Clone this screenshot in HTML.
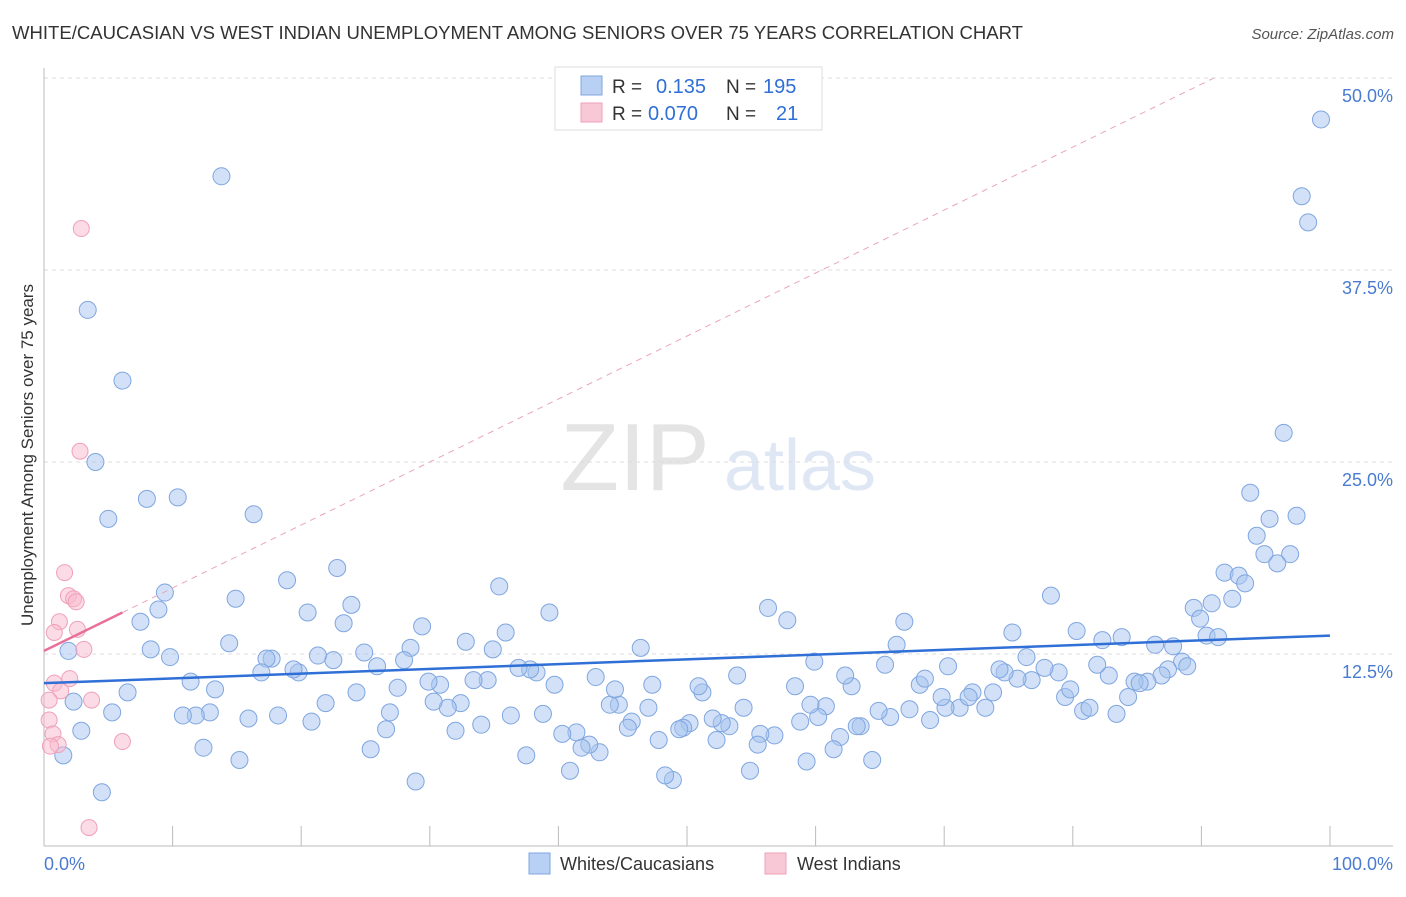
<!DOCTYPE html>
<html><head><meta charset="utf-8"><style>
body{margin:0;background:#fff;font-family:"Liberation Sans",sans-serif}
svg text{font-family:"Liberation Sans",sans-serif}
</style></head><body>
<svg id="chart" width="1406" height="892" xmlns="http://www.w3.org/2000/svg">
<text x="12" y="39" font-size="18" fill="#333" textLength="1011" lengthAdjust="spacingAndGlyphs">WHITE/CAUCASIAN VS WEST INDIAN UNEMPLOYMENT AMONG SENIORS OVER 75 YEARS CORRELATION CHART</text>
<text x="1394" y="39" font-size="15" fill="#555" font-style="italic" text-anchor="end">Source: ZipAtlas.com</text>
<g><text x="635" y="490" font-size="96" fill="#e4e4e4" font-family="Liberation Serif" text-anchor="middle">ZIP</text><text x="800" y="490" font-size="72" fill="#dfe7f5" text-anchor="middle">atlas</text></g>
<g id="grid"></g>
<g id="axes"></g>
<g id="pts-blue"></g>
<g id="pts-pink"></g>
<g id="trends"></g>
<text transform="translate(33,455) rotate(-90)" font-size="17" fill="#333" text-anchor="middle">Unemployment Among Seniors over 75 years</text>
<text x="44" y="870" font-size="18" fill="#4a7bd0">0.0%</text>
<text x="1393" y="870" font-size="18" fill="#4a7bd0" text-anchor="end">100.0%</text>
<g>
<rect x="555" y="67" width="267" height="63" fill="#fff" stroke="#ddd"/>
<rect x="581" y="76" width="21" height="19" fill="#b8d0f4" stroke="#7fa6e0"/>
<rect x="581" y="103" width="21" height="19" fill="#f9c8d6" stroke="#f0a0b8"/>
<text x="612" y="93" font-size="19" fill="#333">R = </text><text x="656" y="93" font-size="20" fill="#2f6fd6">0.135</text>
<text x="726" y="93" font-size="19" fill="#333">N = </text><text x="763" y="93" font-size="20" fill="#2f6fd6">195</text>
<text x="612" y="120" font-size="19" fill="#333">R = </text><text x="648" y="120" font-size="20" fill="#2f6fd6">0.070</text>
<text x="726" y="120" font-size="19" fill="#333">N = </text><text x="776" y="120" font-size="20" fill="#2f6fd6">21</text>
</g>
<g>
<rect x="529" y="853" width="21" height="21" fill="#b8d0f4" stroke="#7fa6e0"/>
<text x="560" y="870" font-size="18" fill="#333">Whites/Caucasians</text>
<rect x="765" y="853" width="21" height="21" fill="#f9c8d6" stroke="#f0a0b8"/>
<text x="797" y="870" font-size="18" fill="#333">West Indians</text>
</g>
</svg>
<script>
const yTicks=[12.5,25,37.5,50];
const yTickLabels=["12.5%","25.0%","37.5%","50.0%"];
const xTicks=[0,10,20,30,40,50,60,70,80,90,100];
const blueX=[13.8,3.4,6.1,4.0,5.0,8.0,10.4,16.3,99.3,97.8,98.3,96.4,93.8,95.3,97.4,94.3,94.9,96.9,95.9,91.8,92.9,93.4,92.4,90.8,89.4,89.9,90.4,91.3,87.8,86.4,88.5,88.9,87.4,86.9,85.8,84.8,85.2,84.3,83.4,80.8,81.3,79.4,79.8,82.8,81.9,78.9,77.8,76.8,75.7,74.7,74.3,76.4,75.3,78.3,80.3,82.3,83.8,73.8,72.2,73.2,71.2,70.1,71.9,69.8,68.9,67.3,65.8,68.1,68.5,70.3,65.4,66.3,66.9,62.8,62.3,64.9,63.5,64.4,61.9,61.4,63.2,60.8,60.2,58.8,59.6,58.4,59.9,57.8,56.3,59.3,56.8,55.7,55.5,54.9,54.4,53.9,53.3,52.7,52.0,52.3,51.2,50.9,50.2,49.7,49.4,48.9,48.3,47.8,47.0,47.3,46.4,45.7,45.4,44.7,44.0,44.4,42.9,43.2,42.4,41.8,41.4,40.3,40.9,39.7,38.8,39.3,38.3,37.8,36.9,37.5,36.3,35.9,35.4,34.9,34.5,33.4,34.0,32.8,32.4,31.4,30.8,30.3,29.9,32.0,29.4,28.5,28.0,27.5,26.9,26.6,28.9,25.4,25.9,24.9,24.3,23.9,23.3,22.8,22.5,21.3,21.9,20.8,20.5,19.8,19.4,18.9,18.2,17.7,17.3,16.9,15.9,14.9,15.2,14.4,13.3,12.9,11.8,12.4,11.4,10.8,9.8,9.4,8.9,8.3,7.5,6.5,5.3,4.5,2.9,2.3,1.9,1.5];
const blueY=[43.6,34.9,30.3,25.0,21.3,22.6,22.7,21.6,47.3,42.3,40.6,26.9,23.0,21.3,21.5,20.2,19.0,19.0,18.4,17.8,17.6,17.1,16.1,15.8,15.5,14.8,13.7,13.6,13.0,13.1,12.0,11.7,11.5,11.1,10.7,10.7,10.6,9.7,8.6,8.8,9.0,9.7,10.2,11.1,11.8,11.3,11.6,10.8,10.9,11.3,11.5,12.3,13.9,16.3,14.0,13.4,13.6,10.0,10.0,9.0,9.0,9.0,9.7,9.7,8.2,8.9,8.4,10.5,10.9,11.7,11.8,13.1,14.6,10.4,11.1,8.8,7.8,5.6,7.1,6.3,7.8,9.1,8.4,8.1,9.2,10.4,12.0,14.7,15.5,5.5,7.2,7.3,6.6,4.9,9.0,11.1,7.8,8.0,8.3,6.9,10.0,10.4,8.0,7.7,7.6,4.3,4.6,6.9,9.0,10.5,12.9,8.1,7.7,9.2,9.2,10.2,11.0,6.1,6.6,6.4,7.4,7.3,4.9,10.5,8.6,15.2,11.3,11.5,11.6,5.9,8.5,13.9,16.9,12.8,10.8,10.8,7.9,13.3,9.3,9.0,10.5,9.4,10.7,7.5,14.3,12.9,12.1,10.3,8.7,7.6,4.2,6.3,11.7,12.6,10.0,15.7,14.5,18.1,12.1,12.4,9.3,8.1,15.2,11.3,11.5,17.3,8.5,12.2,12.2,11.3,8.3,16.1,5.6,13.2,10.2,8.7,8.5,6.4,10.7,8.5,12.3,16.5,15.4,12.8,14.6,10.0,8.7,3.5,7.5,9.4,12.7,5.9];
const pinkX=[2.9,2.8,1.6,1.9,2.3,2.5,1.2,0.8,2.6,3.1,0.8,2.0,1.3,3.7,0.4,0.4,0.7,1.1,6.1,3.5,0.5];
const pinkY=[40.2,25.7,17.8,16.3,16.1,15.9,14.6,13.9,14.1,12.8,10.6,10.9,10.1,9.5,9.5,8.2,7.3,6.6,6.8,1.2,6.5];
const blueTrend=[10.6,13.7];
const pinkTrend=[12.7,0.41];
const pinkSolidEnd=6.1;

const NS="http://www.w3.org/2000/svg";
const X0=44,X1=1330,Y0=846,YS=15.36;
const sx=v=>X0+(X1-X0)*v/100;
const sy=v=>Y0-v*YS;
function mk(tag,attrs,parent){const e=document.createElementNS(NS,tag);for(const k in attrs)e.setAttribute(k,attrs[k]);parent.appendChild(e);return e;}
const grid=document.getElementById('grid'),axes=document.getElementById('axes');
yTicks.forEach((t,i)=>{
  const l=mk('line',{x1:44,x2:1393,y1:sy(t),y2:sy(t),stroke:'#ddd','stroke-dasharray':'4,4'},grid);
  
  
  const tx=mk('text',{x:1393,y:sy(t)+24,'font-size':18,fill:'#4a7bd0','text-anchor':'end'},grid);
  tx.textContent=yTickLabels[i];
  
  
});
const topGrid=mk('line',{x1:44,x2:1393,y1:78,y2:78,stroke:'#ddd','stroke-dasharray':'4,4'},grid);


mk('line',{x1:44,x2:44,y1:68,y2:846,stroke:'#bbb'},axes);
mk('line',{x1:44,x2:1393,y1:846,y2:846,stroke:'#bbb'},axes);
xTicks.forEach(t=>{
  const l=mk('line',{x1:sx(t),x2:sx(t),y1:826,y2:846,stroke:'#bbb'},axes);
  
  
});
const gb=document.getElementById('pts-blue');
blueX.forEach((x,i)=>{
  const c=mk('circle',{cx:sx(x),cy:sy(blueY[i]),r:8.5,fill:'rgba(165,195,240,0.5)',stroke:'#7fa6e0','stroke-width':1},gb);
  
  
});
const gp=document.getElementById('pts-pink');
pinkX.forEach((x,i)=>{
  const c=mk('circle',{cx:sx(x),cy:sy(pinkY[i]),r:8,fill:'rgba(248,185,205,0.5)',stroke:'#f0a0b8','stroke-width':1},gp);
  
  
});
const tr=document.getElementById('trends');
const bl=mk('line',{x1:sx(0),y1:sy(blueTrend[0]),x2:sx(100),y2:sy(blueTrend[1]),stroke:'#2f6fd6','stroke-width':2.5},tr);


const xe=(50-pinkTrend[0])/pinkTrend[1];
const pd=mk('line',{x1:sx(pinkSolidEnd),y1:sy(pinkTrend[0]+pinkTrend[1]*pinkSolidEnd),x2:sx(xe),y2:sy(50),stroke:'#eaa5bb','stroke-width':1,'stroke-dasharray':'6,5'},tr);


const ps=mk('line',{x1:sx(0),y1:sy(pinkTrend[0]),x2:sx(pinkSolidEnd),y2:sy(pinkTrend[0]+pinkTrend[1]*pinkSolidEnd),stroke:'#e8709a','stroke-width':2.5},tr);


</script>
</body></html>
